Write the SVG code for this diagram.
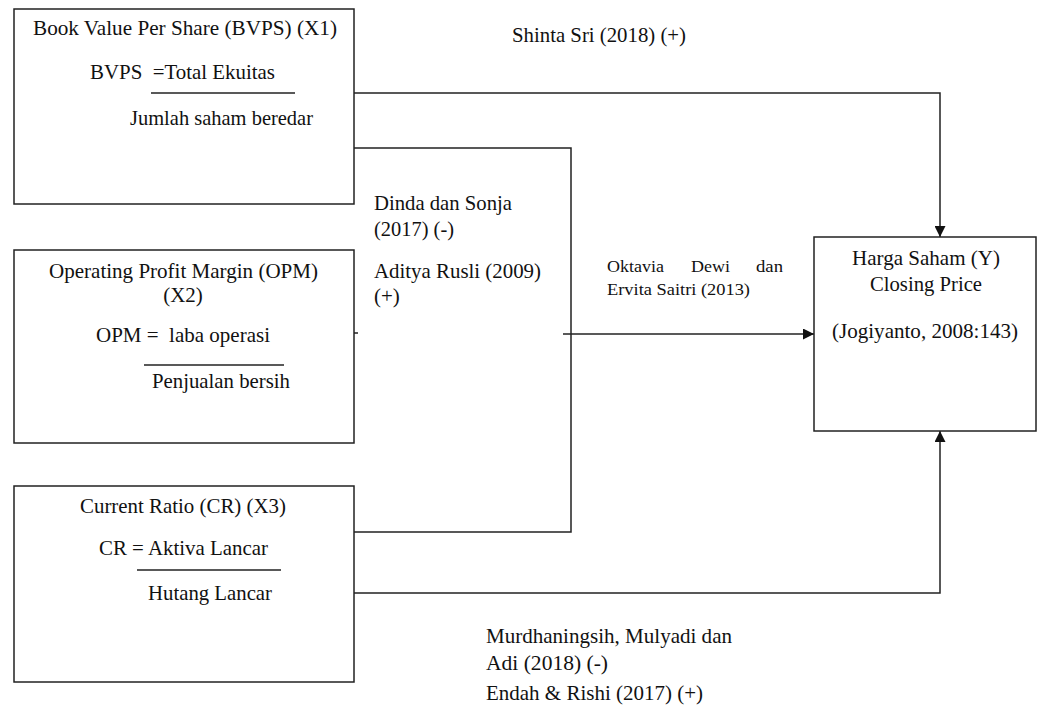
<svg xmlns="http://www.w3.org/2000/svg" width="1037" height="718" viewBox="0 0 1037 718">
<style>
  .box{fill:#fff;stroke:#222;stroke-width:1.5}
  .t{font-family:"Liberation Serif","Times New Roman",serif;font-size:21px;fill:#111}
  .s{font-family:"Liberation Serif","Times New Roman",serif;font-size:17px;fill:#111}
  .c{text-anchor:middle}
  .ln{stroke:#222;stroke-width:1.5;fill:none}
</style>
<defs>
  <marker id="arr" viewBox="0 0 10 10" refX="10" refY="5" markerWidth="12" markerHeight="11" markerUnits="userSpaceOnUse" orient="auto">
    <path d="M0,0 L10,5 L0,10 Z" fill="#111"/>
  </marker>
</defs>
<rect width="1037" height="718" fill="#fff"/>

<g id="connectors">
  <polyline class="ln" points="354,93 940,93 940,237" marker-end="url(#arr)"/>
  <polyline class="ln" points="354,148 571,148 571,532 354,532"/>
  <line class="ln" x1="354" y1="333" x2="358" y2="333"/>
  <line class="ln" x1="563" y1="334" x2="814" y2="334" marker-end="url(#arr)"/>
  <polyline class="ln" points="354,593 940,593 940,431" marker-end="url(#arr)"/>
</g>

<g id="x1">
  <rect class="box" x="14" y="9" width="340" height="195"/>
  <text class="t" x="33" y="35" textLength="304" lengthAdjust="spacingAndGlyphs">Book Value Per Share (BVPS) (X1)</text>
  <text class="t" x="90" y="79" xml:space="preserve" textLength="185" lengthAdjust="spacingAndGlyphs">BVPS  =Total Ekuitas</text>
  <line class="ln" x1="151" y1="93" x2="295" y2="93"/>
  <text class="t" x="130" y="125" textLength="183" lengthAdjust="spacingAndGlyphs">Jumlah saham beredar</text>
</g>

<g id="x2">
  <rect class="box" x="14" y="250" width="340" height="193"/>
  <text class="t" x="49" y="278" textLength="269" lengthAdjust="spacingAndGlyphs">Operating Profit Margin (OPM)</text>
  <text class="t c" x="183" y="302">(X2)</text>
  <text class="t" x="96" y="342" xml:space="preserve" textLength="174" lengthAdjust="spacingAndGlyphs">OPM =  laba operasi</text>
  <line class="ln" x1="144" y1="365" x2="284" y2="365"/>
  <text class="t" x="152" y="388" textLength="138" lengthAdjust="spacingAndGlyphs">Penjualan bersih</text>
</g>

<g id="x3">
  <rect class="box" x="14" y="486" width="340" height="196"/>
  <text class="t" x="80" y="513" textLength="206" lengthAdjust="spacingAndGlyphs">Current Ratio (CR) (X3)</text>
  <text class="t" x="99" y="555" textLength="169" lengthAdjust="spacingAndGlyphs">CR = Aktiva Lancar</text>
  <line class="ln" x1="137" y1="570" x2="281" y2="570"/>
  <text class="t" x="148" y="600" textLength="124" lengthAdjust="spacingAndGlyphs">Hutang Lancar</text>
</g>

<g id="y">
  <rect class="box" x="814" y="237" width="222" height="194"/>
  <text class="t" x="852" y="265" textLength="148" lengthAdjust="spacingAndGlyphs">Harga Saham (Y)</text>
  <text class="t" x="870" y="291" textLength="112" lengthAdjust="spacingAndGlyphs">Closing Price</text>
  <text class="t" x="832" y="338" textLength="186" lengthAdjust="spacingAndGlyphs">(Jogiyanto, 2008:143)</text>
</g>

<g id="labels">
  <text class="t" x="512" y="42" textLength="174" lengthAdjust="spacingAndGlyphs">Shinta Sri (2018) (+)</text>
  <text class="t" x="374" y="210" textLength="138" lengthAdjust="spacingAndGlyphs">Dinda dan Sonja</text>
  <text class="t" x="374" y="236" textLength="80" lengthAdjust="spacingAndGlyphs">(2017) (-)</text>
  <text class="t" x="374" y="278" textLength="167" lengthAdjust="spacingAndGlyphs">Aditya Rusli (2009)</text>
  <text class="t" x="374" y="303">(+)</text>
  <text class="s"><tspan x="607" y="272" textLength="57" lengthAdjust="spacingAndGlyphs">Oktavia</tspan><tspan x="691" y="272" textLength="39" lengthAdjust="spacingAndGlyphs">Dewi</tspan><tspan x="756" y="272" textLength="27" lengthAdjust="spacingAndGlyphs">dan</tspan></text>
  <text class="s" x="607" y="295" textLength="143" lengthAdjust="spacingAndGlyphs">Ervita Saitri (2013)</text>
  <text class="t" x="486" y="643" textLength="246" lengthAdjust="spacingAndGlyphs">Murdhaningsih, Mulyadi dan</text>
  <text class="t" x="486" y="670" textLength="122" lengthAdjust="spacingAndGlyphs">Adi (2018) (-)</text>
  <text class="t" x="486" y="700" textLength="217" lengthAdjust="spacingAndGlyphs">Endah &amp; Rishi (2017) (+)</text>
</g>
</svg>
